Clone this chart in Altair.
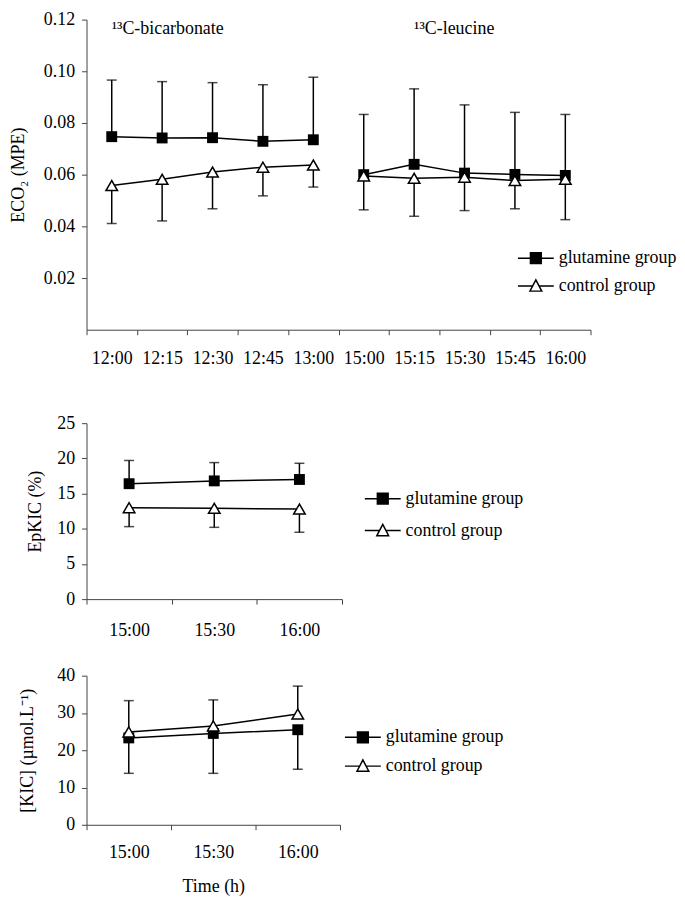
import altair as alt
import pandas as pd

FONT = "Liberation Serif"

# ---------------- data ----------------
groups = ["glutamine group", "control group"]

eco2_times = ["12:00", "12:15", "12:30", "12:45", "13:00",
              "15:00", "15:15", "15:30", "15:45", "16:00"]
eco2_phase = ["bicarbonate"] * 5 + ["leucine"] * 5
eco2_glut = [0.0747, 0.0742, 0.0743, 0.0729, 0.0735, 0.0600, 0.0640, 0.0606, 0.0601, 0.0597]
eco2_glut_hi = [0.0966, 0.0960, 0.0956, 0.0948, 0.0977, 0.0833, 0.0932, 0.0870, 0.0841, 0.0833]
eco2_ctrl = [0.0558, 0.0582, 0.0610, 0.0629, 0.0637, 0.0595, 0.0586, 0.0590, 0.0577, 0.0582]
eco2_ctrl_lo = [0.0411, 0.0421, 0.0468, 0.0518, 0.0552, 0.0464, 0.0439, 0.0461, 0.0468, 0.0426]

annot_time = ["12:00", "15:15"]
annot_value = [0.1165, 0.1165]
annot_text = ["¹³C-bicarbonate", "¹³C-leucine"]

kic_times = ["15:00", "15:30", "16:00"]
kic_phase = ["leucine"] * 3
epkic_glut = [16.4, 16.8, 17.0]
epkic_glut_hi = [19.7, 19.4, 19.3]
epkic_ctrl = [13.0, 12.9, 12.8]
epkic_ctrl_lo = [10.3, 10.2, 9.5]

kicc_glut = [23.3, 24.5, 25.5]
kicc_glut_lo = [13.8, 13.8, 14.9]
kicc_ctrl = [24.9, 26.5, 29.7]
kicc_ctrl_hi = [33.3, 33.5, 37.2]

# legend symbols: line with square / open triangle
SQ = "M-1.4,0H-0.42M0.42,0H1.4M-0.42,-0.42H0.42V0.42H-0.42Z"
TR = "M-1.4,0H-0.24M0.24,0H1.4M-0.46,0.4L0,-0.48L0.46,0.4Z"


def frame(times, phase, glut, glut_err, ctrl, ctrl_err):
    rows = []
    for i, t in enumerate(times):
        rows.append(dict(time=t, phase=phase[i], group=groups[0], value=glut[i], err=glut_err[i]))
        rows.append(dict(time=t, phase=phase[i], group=groups[1], value=ctrl[i], err=ctrl_err[i]))
    return pd.DataFrame(rows)


def panel(df, times, width, height, ydom, yvals, yfmt, ytitle, title_x, legend_x, legend_y,
          row_pad, xtitle=None, xlabelpad=13, annot=None):
    xaxis_kw = dict(labelAngle=0, tickBand="extent", tickSize=5, labelPadding=xlabelpad,
                    domainColor="#444", tickColor="#444", labelFontSize=18, labelFont=FONT,
                    labelColor="black")
    if xtitle:
        xaxis = alt.Axis(title=xtitle, titlePadding=16, titleFont=FONT, titleFontSize=18,
                         titleFontWeight="normal", titleColor="black", **xaxis_kw)
    else:
        xaxis = alt.Axis(title=None, **xaxis_kw)
    xscale = alt.Scale(type="band", domain=times, paddingInner=0, paddingOuter=0)
    x = alt.X("time:N", scale=xscale, sort=times, axis=xaxis)

    yaxis = alt.Axis(values=yvals, format=yfmt, title=ytitle, titleX=title_x, tickSize=5,
                     labelPadding=7, domainColor="#444", tickColor="#444", labelFontSize=18,
                     labelFont=FONT, labelColor="black", titleFont=FONT, titleFontSize=18,
                     titleFontWeight="normal", titleColor="black", grid=False)
    yscale = alt.Scale(domain=ydom, nice=False, zero=True)
    y = alt.Y("value:Q", scale=yscale, axis=yaxis)
    yerr = alt.Y("err:Q", scale=yscale, axis=yaxis)

    base = alt.Chart(df)
    rules = base.mark_rule(color="black", strokeWidth=1.5).encode(x=x, y=y, y2="err:Q")
    caps = base.mark_tick(color="black", size=10, thickness=1.5).encode(x=x, y=yerr)
    lines = base.mark_line(color="black", strokeWidth=1.5).encode(
        x=x, y=y, detail=["group:N", "phase:N"])
    glut = base.transform_filter(alt.datum.group == groups[0]).mark_point(
        shape="square", size=120, filled=True, color="black", opacity=1).encode(x=x, y=y)
    ctrl = base.transform_filter(alt.datum.group == groups[1]).mark_point(
        shape="triangle-up", size=135, filled=True, fill="white", stroke="black",
        strokeWidth=1.5, opacity=1).encode(x=x, y=y)

    leg = alt.Legend(title=None, orient="none", legendX=legend_x, legendY=legend_y,
                     labelFont=FONT, labelFontSize=18, labelColor="black", labelOffset=9,
                     symbolSize=664, symbolStrokeWidth=1.5,
                     symbolOpacity=1, rowPadding=row_pad, padding=0)
    legend_layer = base.transform_filter("false").mark_point(
        filled=True, opacity=1, strokeWidth=1.5).encode(
        x=x, y=y,
        shape=alt.Shape("group:N", scale=alt.Scale(domain=groups, range=[SQ, TR]), legend=leg),
        fill=alt.Fill("group:N", scale=alt.Scale(domain=groups, range=["black", "white"]), legend=leg),
        stroke=alt.Stroke("group:N", scale=alt.Scale(domain=groups, range=["black", "black"]), legend=leg),
    )
    layers = [rules, caps, lines, glut, ctrl, legend_layer]
    if annot is not None:
        adf = pd.DataFrame(annot)
        txt = alt.Chart(adf).mark_text(align="left", baseline="middle", font=FONT,
                                       fontSize=18, color="black").encode(
            x=alt.X("time:N", scale=xscale, sort=times, axis=xaxis),
            y=alt.Y("value:Q", scale=yscale, axis=yaxis),
            text="label:N")
        layers.append(txt)
    return alt.layer(*layers).properties(width=width, height=height)


top_df = frame(eco2_times, eco2_phase, eco2_glut, eco2_glut_hi, eco2_ctrl, eco2_ctrl_lo)
mid_df = frame(kic_times, kic_phase, epkic_glut, epkic_glut_hi, epkic_ctrl, epkic_ctrl_lo)
bot_df = frame(kic_times, kic_phase, kicc_glut, kicc_glut_lo, kicc_ctrl, kicc_ctrl_hi)

top = panel(top_df, eco2_times, 507, 312, [0, 0.12],
            [0.02, 0.04, 0.06, 0.08, 0.10, 0.12], ".2f", "ECO₂ (MPE)", -59, 438, 226, 5,
            xlabelpad=15,
            annot=dict(time=annot_time, value=annot_value, label=annot_text))
mid = panel(mid_df, kic_times, 257, 177, [0, 25], [0, 5, 10, 15, 20, 25], "d",
            "EpKIC (%)", -42, 284, 62, 9, xlabelpad=18)
bot = panel(bot_df, kic_times, 255, 150, [0, 40], [0, 10, 20, 30, 40], "d",
            "[KIC] (µmol.L⁻¹)", -50, 264, 48, 6, xtitle="Time (h)", xlabelpad=14)

res_scale = dict(shape="independent", fill="independent", stroke="independent")
lower = alt.vconcat(mid, bot, spacing=27).resolve_scale(**res_scale).resolve_legend(**res_scale)
chart = alt.vconcat(top, lower, spacing=47).resolve_scale(**res_scale).resolve_legend(
    **res_scale).properties(
    padding={"left": 2, "top": 0, "right": 0, "bottom": 0},
    background="white").configure_view(strokeWidth=0)

chart.save("out.html", embed_options={"renderer": "svg", "actions": False})
